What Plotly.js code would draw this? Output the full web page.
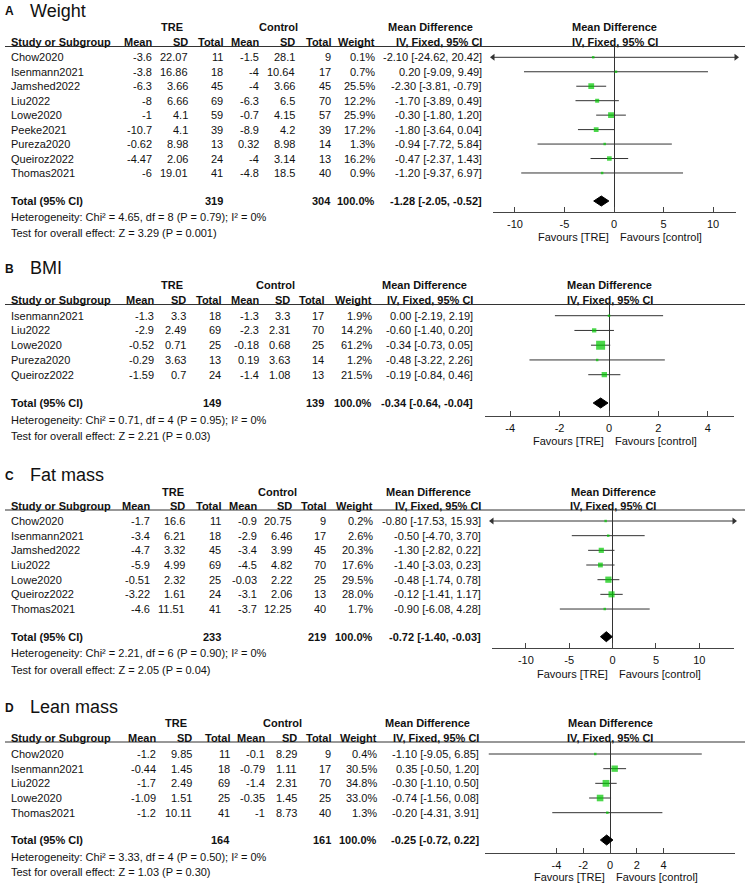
<!DOCTYPE html>
<html>
<head>
<meta charset="utf-8">
<script src="https://cdn.plot.ly/plotly-3.0.1.min.js"></script>
<style>
  body { margin: 0; background: #fff; }
  #chart { width: 745px; height: 885px; }
</style>
</head>
<body>
<div id="chart"></div>
<script>
// --- Data ---

const panelLetters = ['A', 'B', 'C', 'D'];
const panelNames = ['Weight', 'BMI', 'Fat mass', 'Lean mass'];

// A: Weight
const weightStudies = ['Chow2020', 'Isenmann2021', 'Jamshed2022', 'Liu2022', 'Lowe2020', 'Peeke2021', 'Pureza2020', 'Queiroz2022', 'Thomas2021'];
const weightTreMean = [-3.6, -3.8, -6.3, -8, -1, -10.7, -0.62, -4.47, -6];
const weightTreSd = [22.07, 16.86, 3.66, 6.66, 4.1, 4.1, 8.98, 2.06, 19.01];
const weightTreN = [11, 18, 45, 69, 59, 39, 13, 24, 41];
const weightCtrlMean = [-1.5, -4, -4, -6.3, -0.7, -8.9, 0.32, -4, -4.8];
const weightCtrlSd = [28.1, 10.64, 3.66, 6.5, 4.15, 4.2, 8.98, 3.14, 18.5];
const weightCtrlN = [9, 17, 45, 70, 57, 39, 14, 13, 40];
const weightPct = [0.1, 0.7, 25.5, 12.2, 25.9, 17.2, 1.3, 16.2, 0.9];
const weightMd = [-2.10, 0.20, -2.30, -1.70, -0.30, -1.80, -0.94, -0.47, -1.20];
const weightLo = [-24.62, -9.09, -3.81, -3.89, -1.80, -3.64, -7.72, -2.37, -9.37];
const weightHi = [20.42, 9.49, -0.79, 0.49, 1.20, 0.04, 5.84, 1.43, 6.97];
const weightTicks = [-10, -5, 0, 5, 10];

// B: BMI
const bmiStudies = ['Isenmann2021', 'Liu2022', 'Lowe2020', 'Pureza2020', 'Queiroz2022'];
const bmiTreMean = [-1.3, -2.9, -0.52, -0.29, -1.59];
const bmiTreSd = [3.3, 2.49, 0.71, 3.63, 0.7];
const bmiTreN = [18, 69, 25, 13, 24];
const bmiCtrlMean = [-1.3, -2.3, -0.18, 0.19, -1.4];
const bmiCtrlSd = [3.3, 2.31, 0.68, 3.63, 1.08];
const bmiCtrlN = [17, 70, 25, 14, 13];
const bmiPct = [1.9, 14.2, 61.2, 1.2, 21.5];
const bmiMd = [0.00, -0.60, -0.34, -0.48, -0.19];
const bmiLo = [-2.19, -1.40, -0.73, -3.22, -0.84];
const bmiHi = [2.19, 0.20, 0.05, 2.26, 0.46];
const bmiTicks = [-4, -2, 0, 2, 4];

// C: Fat mass
const fatStudies = ['Chow2020', 'Isenmann2021', 'Jamshed2022', 'Liu2022', 'Lowe2020', 'Queiroz2022', 'Thomas2021'];
const fatTreMean = [-1.7, -3.4, -4.7, -5.9, -0.51, -3.22, -4.6];
const fatTreSd = [16.6, 6.21, 3.32, 4.99, 2.32, 1.61, 11.51];
const fatTreN = [11, 18, 45, 69, 25, 24, 41];
const fatCtrlMean = [-0.9, -2.9, -3.4, -4.5, -0.03, -3.1, -3.7];
const fatCtrlSd = [20.75, 6.46, 3.99, 4.82, 2.22, 2.06, 12.25];
const fatCtrlN = [9, 17, 45, 70, 25, 13, 40];
const fatPct = [0.2, 2.6, 20.3, 17.6, 29.5, 28.0, 1.7];
const fatMd = [-0.80, -0.50, -1.30, -1.40, -0.48, -0.12, -0.90];
const fatLo = [-17.53, -4.70, -2.82, -3.03, -1.74, -1.41, -6.08];
const fatHi = [15.93, 3.70, 0.22, 0.23, 0.78, 1.17, 4.28];
const fatTicks = [-10, -5, 0, 5, 10];

// D: Lean mass
const leanStudies = ['Chow2020', 'Isenmann2021', 'Liu2022', 'Lowe2020', 'Thomas2021'];
const leanTreMean = [-1.2, -0.44, -1.7, -1.09, -1.2];
const leanTreSd = [9.85, 1.45, 2.49, 1.51, 10.11];
const leanTreN = [11, 18, 69, 25, 41];
const leanCtrlMean = [-0.1, -0.79, -1.4, -0.35, -1];
const leanCtrlSd = [8.29, 1.11, 2.31, 1.45, 8.73];
const leanCtrlN = [9, 17, 70, 25, 40];
const leanPct = [0.4, 30.5, 34.8, 33.0, 1.3];
const leanMd = [-1.10, 0.35, -0.30, -0.74, -0.20];
const leanLo = [-9.05, -0.50, -1.10, -1.56, -4.31];
const leanHi = [6.85, 1.20, 0.50, 0.08, 3.91];
const leanTicks = [-4, -2, 0, 2, 4];

// pooled results, one entry per panel
const totalTreN = [319, 149, 233, 164];
const totalCtrlN = [304, 139, 219, 161];
const pooledMd = [-1.28, -0.34, -0.72, -0.25];
const pooledLo = [-2.05, -0.64, -1.40, -0.72];
const pooledHi = [-0.52, -0.04, -0.03, 0.22];
const hetChi2 = [4.65, 0.71, 2.21, 3.33];
const hetDf = [8, 4, 6, 4];
const hetP = [0.79, 0.95, 0.90, 0.50];
const hetI2 = [0, 0, 0, 0];
const testZ = [3.29, 2.21, 2.05, 1.03];
const testP = ['0.001', '0.03', '0.04', '0.30'];

const panelData = [
    { study: weightStudies, tm: weightTreMean, ts: weightTreSd, tn: weightTreN, cm: weightCtrlMean, cs: weightCtrlSd, cn: weightCtrlN, pct: weightPct, md: weightMd, lo: weightLo, hi: weightHi, ticks: weightTicks },
    { study: bmiStudies, tm: bmiTreMean, ts: bmiTreSd, tn: bmiTreN, cm: bmiCtrlMean, cs: bmiCtrlSd, cn: bmiCtrlN, pct: bmiPct, md: bmiMd, lo: bmiLo, hi: bmiHi, ticks: bmiTicks },
    { study: fatStudies, tm: fatTreMean, ts: fatTreSd, tn: fatTreN, cm: fatCtrlMean, cs: fatCtrlSd, cn: fatCtrlN, pct: fatPct, md: fatMd, lo: fatLo, hi: fatHi, ticks: fatTicks },
    { study: leanStudies, tm: leanTreMean, ts: leanTreSd, tn: leanTreN, cm: leanCtrlMean, cs: leanCtrlSd, cn: leanCtrlN, pct: leanPct, md: leanMd, lo: leanLo, hi: leanHi, ticks: leanTicks }
];

// --- Page geometry (pixels) ---
const W = 745, H = 885;
const FONT = 'Liberation Sans, Arial, sans-serif';
const INK = '#111';

const frames = [
    { titleY: 10.5, groupY: 26.7, headY: 41.7, lineY: 46.5, rowY0: 57.3, step: 14.46, totalY: 201, hetY: 217, testY: 233, axisY: 211.5, favGap: 25.5,
      x0: 493, x1: 736, range: [-12.22, 12.32], cols: [153, 189, 224, 260, 296, 332, 376, 483], treX: 172, ctrlX: 278, mdX: 430 },
    { titleY: 268, groupY: 284.7, headY: 299.7, lineY: 304.5, rowY0: 315.7, step: 14.75, totalY: 403, hetY: 419.7, testY: 435.5, axisY: 415.5, favGap: 25.5,
      x0: 485, x1: 734, range: [-5.02, 5.06], cols: [155, 187, 222, 260, 291, 325, 373, 474], treX: 172, ctrlX: 275, mdX: 424 },
    { titleY: 475, groupY: 492, headY: 506, lineY: 510, rowY0: 521, step: 14.67, totalY: 636.7, hetY: 653, testY: 669.5, axisY: 648, favGap: 25.5,
      x0: 492, x1: 734, range: [-13.9, 14.0], cols: [151, 186, 222, 258, 293, 327, 374, 482], treX: 173, ctrlX: 277, mdX: 428 },
    { titleY: 707, groupY: 723, headY: 738, lineY: 742, rowY0: 754, step: 14.67, totalY: 840, hetY: 856.7, testY: 871.7, axisY: 853, favGap: 23.5,
      x0: 485, x1: 735, range: [-9.33, 9.33], cols: [157, 193, 231, 266, 298, 332, 378, 480], treX: 176, ctrlX: 282, mdX: 427 }
];

function note(x, y, text, anchor, size) {
    return {
        xref: 'paper', yref: 'paper', x: x / W, y: 1 - y / H,
        text: text, xanchor: anchor || 'left', yanchor: 'middle',
        showarrow: false, borderpad: 0,
        font: { family: FONT, size: size || 11, color: INK }
    };
}

function fmt2(v) {
    return v.toFixed(2);
}

function ciText(m, lo, hi) {
    return fmt2(m) + ' [' + fmt2(lo) + ', ' + fmt2(hi) + ']';
}

const traces = [];
const annotations = [];
const shapes = [];
const layout = {
    width: W, height: H,
    margin: { l: 0, r: 0, t: 0, b: 0 },
    paper_bgcolor: '#ffffff',
    plot_bgcolor: '#ffffff',
    showlegend: false,
    hovermode: false,
    font: { family: FONT, size: 11, color: INK }
};

for (let i = 0; i < 4; i++) {
    const f = frames[i];
    const d = panelData[i];
    const ax = i === 0 ? '' : String(i + 1);
    const plotMid = (f.x0 + f.x1) / 2;
    const rowY = d.study.map((_, k) => f.rowY0 + k * f.step);

    // panel title
    annotations.push(note(4, f.titleY + 1, '<b>' + panelLetters[i] + '</b>', 'left', 12));
    annotations.push(note(29, f.titleY, panelNames[i], 'left', 18));

    // group headers
    annotations.push(note(f.treX, f.groupY, '<b>TRE</b>', 'center'));
    annotations.push(note(f.ctrlX, f.groupY, '<b>Control</b>', 'center'));
    annotations.push(note(f.mdX, f.groupY, '<b>Mean Difference</b>', 'center'));
    annotations.push(note(plotMid, f.groupY, '<b>Mean Difference</b>', 'center'));

    // column headers
    const heads = ['Mean', 'SD', 'Total', 'Mean', 'SD', 'Total', 'Weight', 'IV, Fixed, 95% CI'];
    annotations.push(note(10, f.headY, '<b>Study or Subgroup</b>', 'left'));
    heads.forEach((h, c) => annotations.push(note(f.cols[c], f.headY, '<b>' + h + '</b>', 'right')));
    annotations.push(note(plotMid, f.headY, '<b>IV, Fixed, 95% CI</b>', 'center'));

    shapes.push({
        type: 'line', xref: 'paper', yref: 'paper',
        x0: 5 / W, x1: 1, y0: 1 - f.lineY / H, y1: 1 - f.lineY / H,
        line: { color: '#333', width: 1.2 }
    });

    // study rows
    d.study.forEach((name, k) => {
        const y = rowY[k];
        const cells = [d.tm[k], d.ts[k], d.tn[k], d.cm[k], d.cs[k], d.cn[k], d.pct[k].toFixed(1) + '%', ciText(d.md[k], d.lo[k], d.hi[k])];
        annotations.push(note(10, y, name, 'left'));
        cells.forEach((v, c) => annotations.push(note(f.cols[c], y, String(v), 'right')));
    });

    // total row
    annotations.push(note(10, f.totalY, '<b>Total (95% CI)</b>', 'left'));
    annotations.push(note(f.cols[2], f.totalY, '<b>' + totalTreN[i] + '</b>', 'right'));
    annotations.push(note(f.cols[5], f.totalY, '<b>' + totalCtrlN[i] + '</b>', 'right'));
    annotations.push(note(f.cols[6], f.totalY, '<b>100.0%</b>', 'right'));
    annotations.push(note(f.cols[7], f.totalY, '<b>' + ciText(pooledMd[i], pooledLo[i], pooledHi[i]) + '</b>', 'right'));

    annotations.push(note(10, f.hetY, 'Heterogeneity: Chi² = ' + hetChi2[i].toFixed(2) + ', df = ' + hetDf[i] +
        ' (P = ' + hetP[i].toFixed(2) + '); I² = ' + hetI2[i] + '%', 'left'));
    annotations.push(note(10, f.testY, 'Test for overall effect: Z = ' + testZ[i].toFixed(2) + ' (P = ' + testP[i] + ')', 'left'));

    // favours labels under the axis
    const favY = 1 - (f.axisY + f.favGap) / H;
    annotations.push({ xref: 'x' + ax, yref: 'paper', x: 0, xshift: -3, y: favY, text: 'Favours [TRE]', xanchor: 'right', yanchor: 'middle', showarrow: false, font: { family: FONT, size: 11, color: INK } });
    annotations.push({ xref: 'x' + ax, yref: 'paper', x: 0, xshift: 4, y: favY, text: 'Favours [control]', xanchor: 'left', yanchor: 'middle', showarrow: false, font: { family: FONT, size: 11, color: INK } });

    // axes
    layout['xaxis' + ax] = {
        domain: [f.x0 / W, f.x1 / W],
        range: f.range,
        anchor: 'y' + ax,
        showgrid: false,
        zeroline: true, zerolinecolor: '#333', zerolinewidth: 1,
        showline: true, linecolor: '#444', linewidth: 1,
        ticks: 'inside', ticklen: 5, tickwidth: 1, tickcolor: '#444',
        tickvals: d.ticks, ticktext: d.ticks.map(String),
        ticklabelstandoff: 2,
        tickfont: { family: FONT, size: 11, color: INK },
        layer: 'below traces',
        fixedrange: true
    };
    layout['yaxis' + ax] = {
        domain: [1 - f.axisY / H, 1 - f.lineY / H],
        range: [f.axisY, f.lineY],
        anchor: 'x' + ax,
        visible: false,
        fixedrange: true
    };

    // confidence interval lines
    const cx = [], cy = [];
    d.lo.forEach((lo, k) => {
        cx.push(lo, d.hi[k], null);
        cy.push(rowY[k], rowY[k], null);
    });
    traces.push({ type: 'scatter', mode: 'lines', x: cx, y: cy, xaxis: 'x' + ax, yaxis: 'y' + ax,
        line: { color: '#333', width: 1 }, hoverinfo: 'skip' });

    // arrowheads where the interval runs off the axis
    const leftY = rowY.filter((_, k) => d.lo[k] < f.range[0]);
    const rightY = rowY.filter((_, k) => d.hi[k] > f.range[1]);
    if (leftY.length) {
        traces.push({ type: 'scatter', mode: 'markers', x: leftY.map(() => f.range[0]), y: leftY, xaxis: 'x' + ax, yaxis: 'y' + ax,
            cliponaxis: false, marker: { symbol: 'triangle-left', size: 6, color: '#333' }, hoverinfo: 'skip' });
    }
    if (rightY.length) {
        traces.push({ type: 'scatter', mode: 'markers', x: rightY.map(() => f.range[1]), y: rightY, xaxis: 'x' + ax, yaxis: 'y' + ax,
            cliponaxis: false, marker: { symbol: 'triangle-right', size: 6, color: '#333' }, hoverinfo: 'skip' });
    }

    // study squares sized by weight
    traces.push({ type: 'scatter', mode: 'markers', x: d.md, y: rowY, xaxis: 'x' + ax, yaxis: 'y' + ax,
        marker: { symbol: 'square', color: '#00c800', size: d.pct.map(w => Math.max(2.5, 1.15 * Math.sqrt(w))), line: { width: 0 } },
        hoverinfo: 'skip' });

    // pooled diamond
    const h = 5;
    traces.push({ type: 'scatter', mode: 'lines',
        x: [pooledLo[i], pooledMd[i], pooledHi[i], pooledMd[i], pooledLo[i]],
        y: [f.totalY, f.totalY - h, f.totalY, f.totalY + h, f.totalY],
        xaxis: 'x' + ax, yaxis: 'y' + ax, fill: 'toself', fillcolor: '#000',
        line: { color: '#000', width: 1 }, hoverinfo: 'skip' });
}

layout.annotations = annotations;
layout.shapes = shapes;

Plotly.newPlot('chart', traces, layout, { staticPlot: true, displayModeBar: false });
</script>
</body>
</html>
